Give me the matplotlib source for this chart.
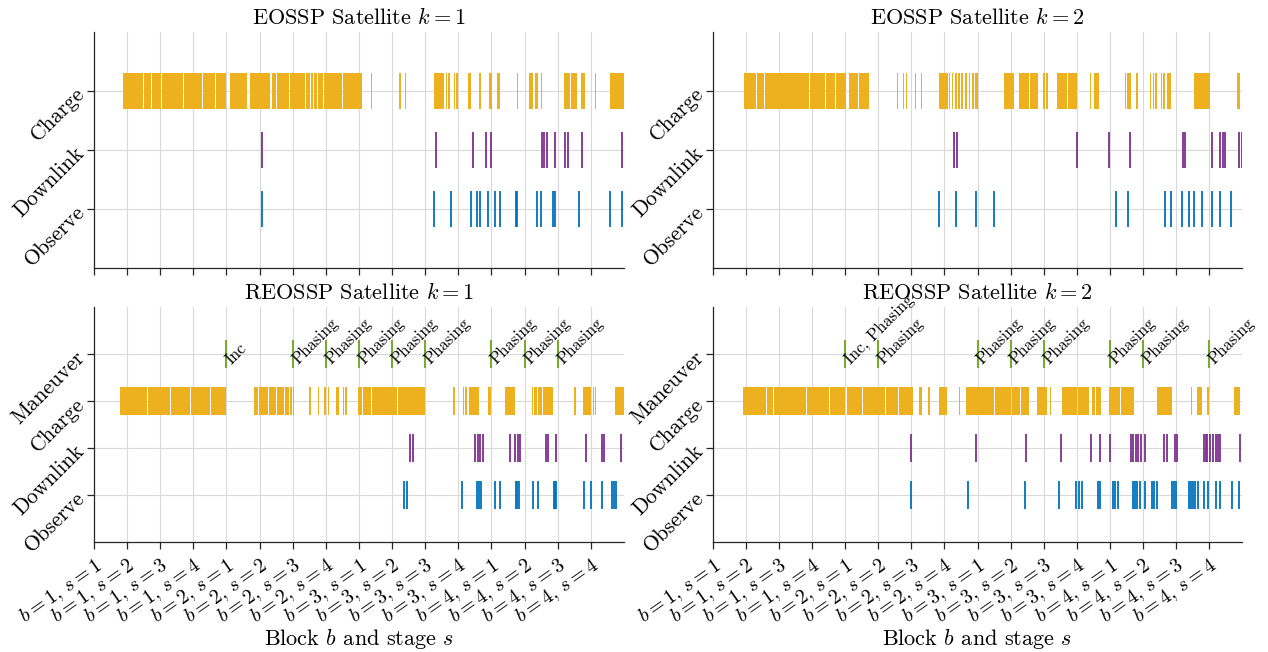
import matplotlib
matplotlib.use("Agg")
import matplotlib.pyplot as plt

plt.rcParams['font.family'] = 'serif'
plt.rcParams['font.serif'] = ['cmr10', 'DejaVu Serif']
plt.rcParams['mathtext.fontset'] = 'cm'
plt.rcParams['axes.unicode_minus'] = False
plt.rcParams['axes.formatter.use_mathtext'] = True

# colores tipo MATLAB
C_OBS = '#0072BD'
C_DL = '#7E2F8E'
C_CH = '#EDB120'
C_MAN = '#77AC30'

# etiquetas del eje x (bloque b, etapa s)
tick_labels = [r'$b = %d,\, s = %d$' % (b, s) for b in range(1, 5) for s in range(1, 5)]

# ---- datos (en unidades de etapa) ----
# EOSSP k=1
eo1_charge = [(0.89, 1.48), (1.50, 1.73), (1.75, 2.03), (2.05, 2.69), (2.71, 3.27), (3.29, 3.65),
              (3.67, 3.99), (4.11, 4.62), (4.72, 5.32), (5.37, 5.50), (5.52, 5.90), (5.93, 6.37),
              (6.40, 6.52), (6.55, 6.60), (6.63, 6.72), (6.75, 6.92), (6.95, 7.50), (7.53, 7.60),
              (7.62, 8.08), (8.37, 8.40), (9.22, 9.26), (9.38, 9.43), (10.25, 10.50), (10.52, 10.58),
              (10.62, 10.66), (10.70, 10.75), (10.86, 10.91), (10.94, 10.98), (11.28, 11.31),
              (11.33, 11.38), (11.61, 11.67), (11.92, 12.02), (12.16, 12.27), (12.78, 12.81),
              (13.12, 13.24), (13.32, 13.40), (13.50, 13.54), (14.20, 14.38), (14.40, 14.58),
              (14.69, 14.83), (15.11, 15.15), (15.58, 16.0)]
eo1_downlink = [5.07, 10.32, 11.44, 11.83, 11.99, 13.52, 13.60, 13.68, 13.92, 14.23, 14.32,
                14.74, 15.93]
eo1_observe = [5.07, 10.25, 10.79, 11.37, 11.57, 11.66, 11.90, 12.10, 12.27, 12.75, 12.78,
               13.38, 13.50, 13.87, 13.91, 14.64, 15.59, 15.94]

# EOSSP k=2
eo2_charge = [(0.95, 1.30), (1.32, 1.55), (1.57, 2.20), (2.22, 2.90), (2.92, 3.40), (3.42, 3.70),
              (3.72, 4.02), (4.12, 4.40), (4.42, 4.72), (5.58, 5.61), (5.74, 5.78), (5.85, 5.88),
              (6.11, 6.14), (6.28, 6.32), (6.83, 7.10), (7.13, 7.18), (7.23, 7.27), (7.33, 7.38),
              (7.42, 7.46), (7.50, 7.57), (7.62, 7.69), (7.73, 7.78), (7.83, 7.89), (7.93, 8.00),
              (8.80, 9.10), (9.25, 9.55), (9.58, 9.83), (9.98, 10.03), (10.08, 10.13),
              (10.39, 10.70), (10.73, 11.01), (11.39, 11.42), (11.48, 11.50), (11.53, 11.66),
              (12.45, 12.50), (12.53, 12.64), (12.80, 12.86), (13.22, 13.25), (13.30, 13.34),
              (13.38, 13.42), (13.54, 13.57), (13.62, 13.68), (13.72, 13.84), (14.56, 15.03),
              (15.85, 15.93)]
eo2_downlink = [7.30, 7.37, 11.00, 11.97, 12.62, 14.21, 14.28, 15.10, 15.34, 15.42, 15.50,
                15.90, 15.99]
eo2_observe = [6.83, 7.36, 7.96, 8.51, 12.20, 12.54, 13.67, 13.86, 14.20, 14.40, 14.55,
               14.79, 15.09, 15.33, 15.67]

# REOSSP k=1
re1_charge = [(0.79, 1.20), (1.22, 1.60), (1.62, 2.30), (2.32, 2.90), (2.92, 3.50), (3.52, 3.99),
              (4.83, 4.95), (4.98, 5.25), (5.28, 5.50), (5.53, 5.75), (5.78, 5.90), (5.92, 5.97),
              (6.00, 6.04), (6.50, 6.55), (6.75, 6.80), (6.95, 6.99), (7.06, 7.11), (7.31, 7.39),
              (7.53, 7.56), (7.59, 7.63), (7.97, 8.08), (8.12, 8.35), (8.38, 9.15), (9.18, 9.95),
              (9.97, 10.0), (10.85, 10.89), (11.15, 11.18), (11.21, 11.25), (11.33, 11.62),
              (11.89, 12.0), (12.42, 12.70), (13.22, 13.25), (13.28, 13.37), (13.40, 13.52),
              (13.55, 13.87), (14.48, 14.56), (14.77, 15.0), (15.05, 15.08), (15.12, 15.15),
              (15.72, 16.0)]
re1_downlink = [9.54, 9.63, 11.51, 11.58, 11.66, 11.75, 12.57, 12.72, 12.79, 12.86, 13.64,
                13.72, 13.95, 14.86, 15.33, 15.41, 15.92]
re1_observe = [9.37, 9.46, 11.12, 11.56, 11.62, 11.69, 12.10, 12.26, 12.74, 12.78, 12.82,
               13.25, 13.41, 13.88, 13.92, 13.96, 14.79, 14.99, 15.33, 15.65, 15.70, 15.75]
re1_maneuver = [4, 6, 7, 8, 9, 10, 12, 13, 14]
re1_maneuver_lbl = ['Inc', 'Phasing', 'Phasing', 'Phasing', 'Phasing', 'Phasing',
                    'Phasing', 'Phasing', 'Phasing']

# REOSSP k=2
re2_charge = [(0.91, 1.60), (1.63, 1.80), (1.83, 2.80), (2.83, 3.50), (3.53, 4.00), (4.05, 4.50),
              (4.53, 5.20), (5.23, 5.60), (5.63, 6.06), (6.22, 6.32), (6.50, 6.57), (6.84, 7.08),
              (7.45, 7.48), (7.65, 8.00), (8.03, 8.50), (8.53, 9.00), (9.03, 9.30), (9.33, 9.57),
              (9.79, 10.10), (10.18, 10.22), (10.55, 11.00), (11.03, 11.36), (11.45, 11.55),
              (11.58, 11.75), (11.98, 12.30), (12.33, 12.74), (13.43, 13.88), (14.46, 14.50),
              (14.64, 14.79), (14.93, 14.99), (15.75, 15.94)]
re2_downlink = [5.98, 7.94, 9.47, 10.54, 11.43, 11.69, 12.00, 12.64, 12.71, 12.78, 12.86, 12.96,
                13.08, 13.64, 13.72, 13.96, 14.03, 14.85, 14.90, 14.95, 15.03, 15.11, 15.20,
                15.27, 15.34, 15.94]
re2_observe = [5.98, 7.72, 9.44, 10.45, 10.99, 11.08, 11.16, 11.63, 11.72, 12.10, 12.16, 12.25,
               12.71, 12.76, 12.81, 12.90, 13.08, 13.27, 13.35, 13.44, 13.88, 13.94, 14.00,
               14.40, 14.46, 14.52, 14.58, 14.68, 14.86, 14.97, 15.20, 15.34, 15.71, 15.90]
re2_maneuver = [4, 5, 8, 9, 10, 12, 13, 15]
re2_maneuver_lbl = ['Inc, Phasing', 'Phasing', 'Phasing', 'Phasing', 'Phasing', 'Phasing',
                    'Phasing', 'Phasing']


def base_axes(fig, rect, title, cats):
    ax = fig.add_axes(rect)
    ax.set_xlim(0, 16)
    ax.set_ylim(-1, len(cats))
    ax.set_xticks(range(16))
    ax.set_yticks(range(len(cats)))
    ax.set_yticklabels(cats, rotation=45, ha='right', va='center',
                       rotation_mode='anchor', fontsize=15.5)
    ax.grid(True, color='#d9d9d9', lw=0.8)
    ax.set_axisbelow(True)
    for sp in ['top', 'right']:
        ax.spines[sp].set_visible(False)
    for sp in ['left', 'bottom']:
        ax.spines[sp].set_color('#262626')
        ax.spines[sp].set_linewidth(0.9)
    ax.tick_params(direction='out', length=5, width=0.9, color='#262626', pad=4)
    ax.set_title(title, fontsize=16, pad=6)
    return ax


def draw_sched(ax, charge, downlink, observe, h=0.6):
    ax.broken_barh([(a, b - a) for a, b in charge], (2 - h / 2, h),
                   facecolor=C_CH, edgecolor='none', zorder=3)
    ax.vlines(downlink, 1 - h / 2, 1 + h / 2, color=C_DL, lw=1.3, zorder=3)
    ax.vlines(observe, 0 - h / 2, 0 + h / 2, color=C_OBS, lw=1.3, zorder=3)


def draw_maneuver(ax, times, labels, h=0.6):
    ax.vlines(times, 3 - h / 2, 3 + h / 2, color=C_MAN, lw=1.5, zorder=3)
    for t, lbl in zip(times, labels):
        ax.text(t + 0.06, 2.84, lbl, rotation=45, rotation_mode='anchor',
                ha='left', va='center', fontsize=12)


def set_xlabels(ax, show):
    if show:
        ax.set_xticklabels(tick_labels, rotation=35, ha='right', va='top',
                           rotation_mode='anchor', fontsize=14.5)
        ax.set_xlabel(r'Block $b$ and stage $s$', fontsize=16)
        ax.xaxis.set_label_coords(0.5, -0.36)
    else:
        ax.set_xticklabels([])


fig = plt.figure(figsize=(12.68, 6.52), dpi=100)

cats3 = ['Observe', 'Downlink', 'Charge']
cats4 = ['Observe', 'Downlink', 'Charge', 'Maneuver']

ax1 = base_axes(fig, [0.0741, 0.589, 0.418, 0.362], r'EOSSP Satellite $k = 1$', cats3)
draw_sched(ax1, eo1_charge, eo1_downlink, eo1_observe)
set_xlabels(ax1, False)

ax2 = base_axes(fig, [0.5623, 0.589, 0.4172, 0.362], r'EOSSP Satellite $k = 2$', cats3)
draw_sched(ax2, eo2_charge, eo2_downlink, eo2_observe)
set_xlabels(ax2, False)

ax3 = base_axes(fig, [0.0741, 0.1687, 0.418, 0.3603], r'REOSSP Satellite $k = 1$', cats4)
draw_sched(ax3, re1_charge, re1_downlink, re1_observe)
draw_maneuver(ax3, re1_maneuver, re1_maneuver_lbl)
set_xlabels(ax3, True)

ax4 = base_axes(fig, [0.5623, 0.1687, 0.4172, 0.3603], r'REOSSP Satellite $k = 2$', cats4)
draw_sched(ax4, re2_charge, re2_downlink, re2_observe)
draw_maneuver(ax4, re2_maneuver, re2_maneuver_lbl)
set_xlabels(ax4, True)

fig.savefig('out.png', dpi=100)
